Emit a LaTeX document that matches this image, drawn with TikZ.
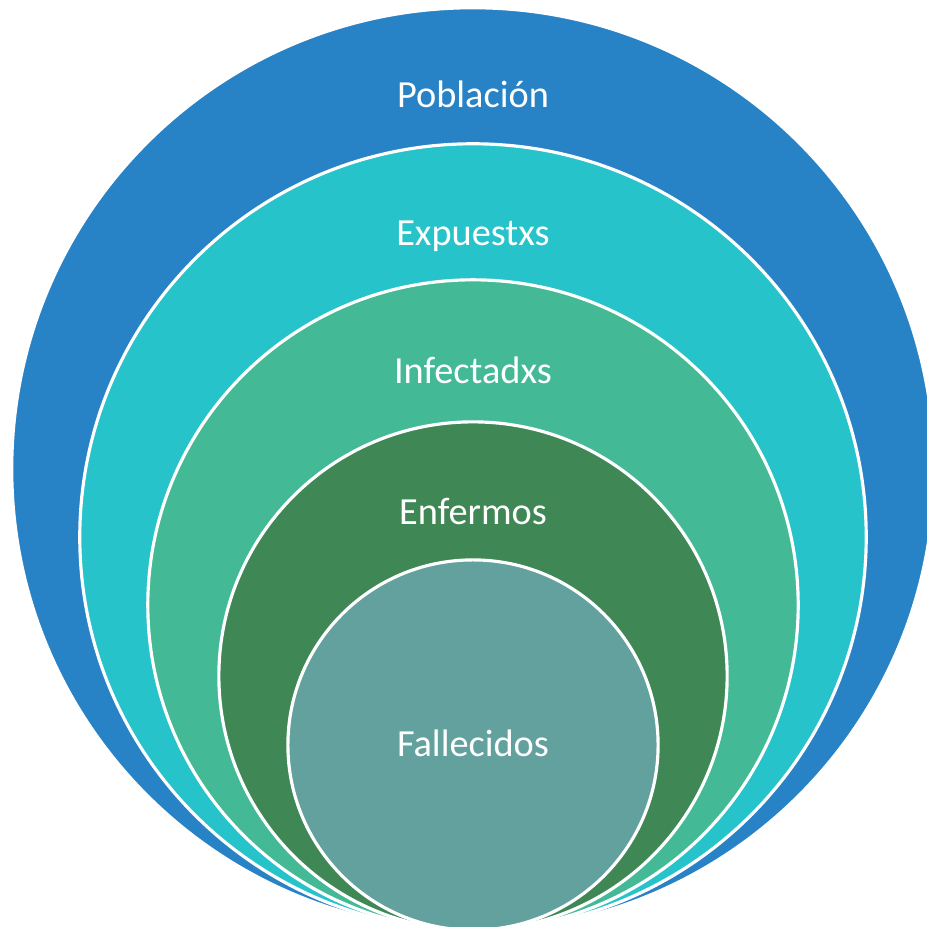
\documentclass[tikz,border=0pt]{standalone}
\usepackage{fontspec}
\setmainfont{Carlito}
\definecolor{poblacion area}{RGB}{40,130,198}
\definecolor{expuestos area}{RGB}{39,195,202}
\definecolor{infectados area}{RGB}{68,185,150}
\definecolor{enfermos area}{RGB}{63,136,85}
\definecolor{fallecidos area}{RGB}{99,161,158}
\def\rings{{469/4.61cm/poblacion area}, {537/3.93cm/expuestos area}, {605/3.25cm/infectados area}, {676/2.54cm/enfermos area}, {745/1.85cm/fallecidos area}}
\def\groups{{107/poblacion/Población}, {245/expuestos/Expuestxs}, {383/infectados/Infectadxs}, {524/enfermos/Enfermos}, {756/fallecidos/Fallecidos}}
\tikzset{
  ring/.style={fill=#1, draw=white, line width=0.9pt},
  ring text/.style={text=white, anchor=base, inner sep=0pt, font=\fontsize{10.9}{13}\selectfont}
  }

\begin{document}
\begin{tikzpicture}[x=0.01cm, y=-0.01cm]

  \useasboundingbox (0,0) rectangle (927,927);
  \clip (0,0) rectangle (927,927);

  % The nested circles, largest first
  \foreach \cy/\rad/\col in \rings
    \path[ring=\col] (473,\cy) circle (\rad);

  % The names of the groups
  \foreach \y/\name/\txt in \groups
    \node[ring text] (\name) at (473,\y) {\txt};

\end{tikzpicture}
\end{document}
